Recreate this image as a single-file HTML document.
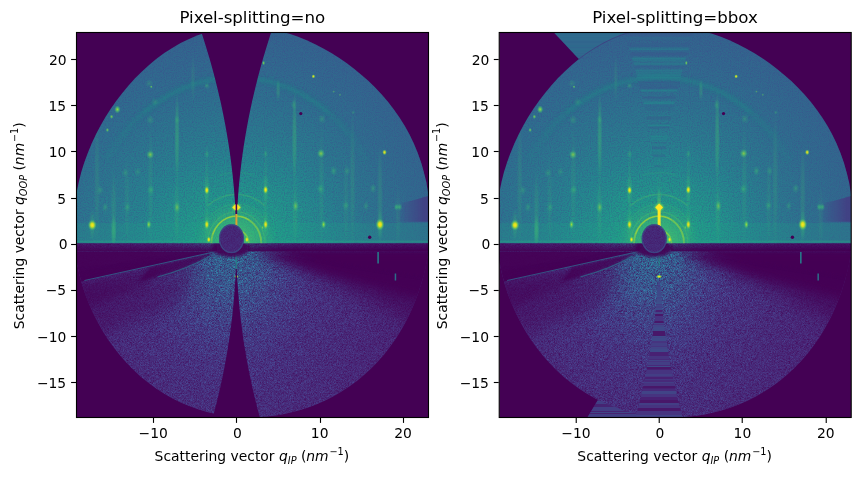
<!DOCTYPE html>
<html><head><meta charset="utf-8"><title>Pixel-splitting comparison</title>
<style>
html,body{margin:0;padding:0;background:#fff;}
body{width:861px;height:478px;overflow:hidden;}
svg{display:block;}
text{font-family:"DejaVu Sans","Liberation Sans",sans-serif;fill:#000;}
.t{font-size:13.89px;}
.ti{font-size:16.67px;}
.i{font-style:italic;}
.s{font-size:9.72px;}
</style></head><body>
<svg width="861" height="478" viewBox="0 0 861 478"><defs>
<radialGradient id="gup" gradientUnits="userSpaceOnUse" cx="0" cy="0" r="28" gradientTransform="translate(236.3 243.8) scale(11.259 9.235)" ><stop offset="0.0000" stop-color="#37b878"/><stop offset="0.0536" stop-color="#29af7f"/><stop offset="0.1071" stop-color="#20a486"/><stop offset="0.1786" stop-color="#1f9a8a"/><stop offset="0.2500" stop-color="#21918c"/><stop offset="0.3214" stop-color="#23888e"/><stop offset="0.4286" stop-color="#287d8e"/><stop offset="0.5714" stop-color="#2c728e"/><stop offset="0.7143" stop-color="#306a8e"/><stop offset="0.8571" stop-color="#33638d"/><stop offset="1.0000" stop-color="#355f8d"/></radialGradient>
<radialGradient id="glo" gradientUnits="userSpaceOnUse" cx="0" cy="0" r="34" gradientTransform="translate(229.62800000000001 243.8) scale(6.255 9.235)" ><stop offset="0.0000" stop-color="#27a6b4"/><stop offset="0.0588" stop-color="#2b9db3"/><stop offset="0.1176" stop-color="#3091b2"/><stop offset="0.1765" stop-color="#3881ae"/><stop offset="0.2353" stop-color="#3f70a9"/><stop offset="0.2941" stop-color="#4362a4"/><stop offset="0.4118" stop-color="#48509a"/><stop offset="0.5294" stop-color="#494a95"/><stop offset="0.6471" stop-color="#4a4491"/><stop offset="0.7941" stop-color="#4b3d8c"/><stop offset="1.0000" stop-color="#4b3b8a"/></radialGradient>
<radialGradient id="sy"><stop offset="0" stop-color="#fde725"/><stop offset="0.35" stop-color="#d8e219" stop-opacity="0.95"/><stop offset="0.65" stop-color="#7ad151" stop-opacity="0.6"/><stop offset="1" stop-color="#35b779" stop-opacity="0"/></radialGradient>
<radialGradient id="sg"><stop offset="0" stop-color="#a0da39"/><stop offset="0.4" stop-color="#5ec962" stop-opacity="0.8"/><stop offset="1" stop-color="#35b779" stop-opacity="0"/></radialGradient>
<radialGradient id="sf"><stop offset="0" stop-color="#44bf70" stop-opacity="0.6"/><stop offset="0.5" stop-color="#35b779" stop-opacity="0.3"/><stop offset="1" stop-color="#2db27d" stop-opacity="0"/></radialGradient>
<radialGradient id="cg"><stop offset="0" stop-color="#6ece58" stop-opacity="0.45"/><stop offset="0.6" stop-color="#4ec36b" stop-opacity="0.3"/><stop offset="1" stop-color="#32b67a" stop-opacity="0.12"/></radialGradient>
<linearGradient id="vsc" x1="0" x2="0" y1="0" y2="1"><stop offset="0" stop-color="#22a884" stop-opacity="0"/><stop offset="0.7" stop-color="#2cb17e" stop-opacity="0.12"/><stop offset="1" stop-color="#7ad151" stop-opacity="0.6"/></linearGradient>
<radialGradient id="ss"><stop offset="0" stop-color="#40bd72" stop-opacity="1"/><stop offset="0.45" stop-color="#3bbb75" stop-opacity="0.8"/><stop offset="1" stop-color="#35b779" stop-opacity="0"/></radialGradient>
<linearGradient id="dimg" gradientUnits="userSpaceOnUse" x1="397" x2="424" y1="0" y2="0"><stop offset="0" stop-color="#414487" stop-opacity="0"/><stop offset="0.45" stop-color="#414487" stop-opacity="0.6"/><stop offset="1" stop-color="#463480" stop-opacity="0.92"/></linearGradient>
<linearGradient id="rdim" gradientUnits="userSpaceOnUse" x1="300" x2="430" y1="0" y2="0"><stop offset="0" stop-color="#375a8c" stop-opacity="0"/><stop offset="1" stop-color="#375a8c" stop-opacity="0.3"/></linearGradient>
<linearGradient id="hb" x1="0" x2="0" y1="0" y2="1"><stop offset="0" stop-color="#440154" stop-opacity="0.45"/><stop offset="0.5" stop-color="#440154" stop-opacity="0.68"/><stop offset="1" stop-color="#440154" stop-opacity="0.93"/></linearGradient>
<linearGradient id="vs" x1="0" x2="1" y1="0" y2="0"><stop offset="0" stop-color="#35b779" stop-opacity="0"/><stop offset="0.5" stop-color="#3dbc74" stop-opacity="1"/><stop offset="1" stop-color="#35b779" stop-opacity="0"/></linearGradient>
<clipPath id="axc"><rect x="76.5" y="32.5" width="352.0" height="385.0"/></clipPath>
<clipPath id="ell"><path d="M73.7,223.0 L74.1,212.6 L75.2,202.3 L76.7,192.1 L78.8,182.1 L81.3,172.1 L84.3,162.4 L87.8,152.9 L91.7,143.6 L95.9,134.5 L100.5,125.7 L105.5,117.1 L110.8,108.8 L116.4,100.8 L122.4,93.0 L128.6,85.5 L135.1,78.3 L142.0,71.4 L149.1,64.9 L156.5,58.8 L164.3,53.1 L172.3,47.9 L180.6,43.1 L189.1,38.9 L197.8,35.3 L206.8,32.3 L215.9,29.9 L225.1,28.2 L234.4,27.2 L243.7,26.7 L253.0,27.0 L262.3,27.8 L271.4,29.3 L280.5,31.3 L289.4,33.8 L298.1,36.8 L306.7,40.3 L315.1,44.2 L323.3,48.4 L331.3,53.0 L339.2,58.0 L346.8,63.3 L354.3,68.9 L361.5,74.9 L368.5,81.1 L375.3,87.8 L381.9,94.7 L388.1,102.1 L394.0,109.7 L399.6,117.8 L404.8,126.1 L409.6,134.8 L413.9,143.8 L417.7,153.1 L421.1,162.6 L423.9,172.4 L426.3,182.3 L428.0,192.4 L429.3,202.5 L430.0,212.7 L430.3,223.0 L430.0,233.3 L429.2,243.5 L427.9,253.6 L426.2,263.7 L424.0,273.6 L421.3,283.5 L418.2,293.1 L414.6,302.6 L410.7,311.8 L406.3,320.8 L401.4,329.6 L396.2,338.0 L390.5,346.1 L384.5,353.9 L378.1,361.3 L371.3,368.3 L364.2,374.8 L356.8,380.9 L349.1,386.6 L341.1,391.8 L333.0,396.5 L324.6,400.7 L316.0,404.5 L307.3,407.7 L298.5,410.5 L289.5,412.8 L280.5,414.7 L271.4,416.0 L262.2,416.9 L253.0,417.3 L243.8,417.3 L234.6,416.7 L225.4,415.6 L216.3,414.0 L207.2,411.9 L198.3,409.2 L189.4,406.1 L180.7,402.4 L172.3,398.2 L164.0,393.5 L155.9,388.3 L148.1,382.6 L140.6,376.4 L133.4,369.8 L126.6,362.8 L120.0,355.3 L113.9,347.5 L108.1,339.4 L102.7,330.9 L97.7,322.1 L93.1,313.1 L89.0,303.7 L85.3,294.2 L82.1,284.4 L79.4,274.4 L77.2,264.3 L75.5,254.1 L74.3,243.8 L73.7,233.4Z"/></clipPath>
<clipPath id="wup"><path d="M200.82,30.50 L202.62,35.97 L204.37,41.44 L206.07,46.91 L207.72,52.38 L209.33,57.85 L210.90,63.32 L212.41,68.78 L213.88,74.25 L215.31,79.72 L216.68,85.19 L218.01,90.66 L219.29,96.13 L220.53,101.60 L221.72,107.07 L222.86,112.54 L223.96,118.01 L225.01,123.48 L226.01,128.95 L226.97,134.42 L227.88,139.88 L228.74,145.35 L229.56,150.82 L230.33,156.29 L231.05,161.76 L231.73,167.23 L232.36,172.70 L232.94,178.17 L233.48,183.64 L233.97,189.11 L234.41,194.58 L234.81,200.05 L235.16,205.52 L235.46,210.98 L235.72,216.45 L235.93,221.92 L236.09,227.39 L236.21,232.86 L236.28,238.33 L236.30,243.80 L236.30,243.80 L236.32,238.33 L236.39,232.86 L236.51,227.39 L236.67,221.92 L236.88,216.45 L237.14,210.98 L237.44,205.52 L237.79,200.05 L238.19,194.58 L238.63,189.11 L239.12,183.64 L239.66,178.17 L240.24,172.70 L240.87,167.23 L241.55,161.76 L242.27,156.29 L243.04,150.82 L243.86,145.35 L244.72,139.88 L245.63,134.42 L246.59,128.95 L247.59,123.48 L248.64,118.01 L249.74,112.54 L250.88,107.07 L252.07,101.60 L253.31,96.13 L254.59,90.66 L255.92,85.19 L257.29,79.72 L258.72,74.25 L260.19,68.78 L261.70,63.32 L263.27,57.85 L264.88,52.38 L266.53,46.91 L268.23,41.44 L269.98,35.97 L271.78,30.50Z"/></clipPath>
<clipPath id="wlo"><path d="M236.30,243.80 L236.28,248.31 L236.24,252.81 L236.16,257.32 L236.05,261.82 L235.90,266.33 L235.73,270.83 L235.52,275.34 L235.29,279.84 L235.02,284.35 L234.72,288.85 L234.38,293.36 L234.02,297.86 L233.63,302.37 L233.20,306.87 L232.74,311.38 L232.25,315.88 L231.73,320.39 L231.17,324.89 L230.59,329.40 L229.97,333.90 L229.32,338.41 L228.64,342.91 L227.93,347.42 L227.18,351.92 L226.41,356.43 L225.60,360.93 L224.76,365.44 L223.89,369.94 L222.99,374.45 L222.05,378.95 L221.09,383.46 L220.09,387.96 L219.06,392.47 L218.00,396.97 L216.91,401.48 L215.79,405.98 L214.63,410.49 L213.44,414.99 L212.23,419.50 L260.37,419.50 L259.16,414.99 L257.97,410.49 L256.81,405.98 L255.69,401.48 L254.60,396.97 L253.54,392.47 L252.51,387.96 L251.51,383.46 L250.55,378.95 L249.61,374.45 L248.71,369.94 L247.84,365.44 L247.00,360.93 L246.19,356.43 L245.42,351.92 L244.67,347.42 L243.96,342.91 L243.28,338.41 L242.63,333.90 L242.01,329.40 L241.43,324.89 L240.87,320.39 L240.35,315.88 L239.86,311.38 L239.40,306.87 L238.97,302.37 L238.58,297.86 L238.22,293.36 L237.88,288.85 L237.58,284.35 L237.31,279.84 L237.08,275.34 L236.87,270.83 L236.70,266.33 L236.55,261.82 L236.44,257.32 L236.36,252.81 L236.32,248.31 L236.30,243.80Z"/></clipPath>
<clipPath id="tlp"><path d="M130.7,32 L157,60 L200,70 L210,32 Z"/></clipPath>
<clipPath id="blp"><path d="M164.3,418 L176.5,397.8 L200,410 L236,418 Z"/></clipPath>
<clipPath id="upc"><rect x="76.5" y="32.5" width="352.0" height="211.0"/></clipPath>
<clipPath id="loc"><rect x="76.5" y="243.5" width="352.0" height="174.0"/></clipPath>
<filter id="nz" x="0" y="0" width="100%" height="100%" color-interpolation-filters="sRGB"><feTurbulence type="fractalNoise" baseFrequency="1.73 1.61" numOctaves="3" seed="3" result="t"/><feColorMatrix in="t" type="matrix" values="0 0 0 0 0.267  0 0 0 0 0.004  0 0 0 0 0.329  1.1 0 0 0 -0.15"/></filter>
<filter id="nzb" x="0" y="0" width="100%" height="100%" color-interpolation-filters="sRGB"><feTurbulence type="fractalNoise" baseFrequency="1.3" numOctaves="2" seed="8" result="t"/><feColorMatrix in="t" type="matrix" values="0 0 0 0 0.267  0 0 0 0 0.004  0 0 0 0 0.329  1.5 0 0 0 -0.4"/><feComposite in2="SourceGraphic" operator="in"/></filter>
<filter id="nz2" x="0" y="0" width="100%" height="100%" color-interpolation-filters="sRGB"><feTurbulence type="fractalNoise" baseFrequency="0.8" numOctaves="2" seed="11" result="t"/><feColorMatrix in="t" type="matrix" values="0 0 0 0 0.15  0 0 0 0 0.45  0 0 0 0 0.55  0 4 0 0 -2.0"/></filter>
<filter id="nzu" x="0" y="0" width="100%" height="100%" color-interpolation-filters="sRGB"><feTurbulence type="fractalNoise" baseFrequency="0.9 0.8" numOctaves="2" seed="5" result="t"/><feColorMatrix in="t" type="matrix" values="0 0 0 0 0.25  0 0 0 0 0.25  0 0 0 0 0.55  0.9 0 0 0 -0.33"/></filter>
<filter id="b1" x="-50%" y="-50%" width="200%" height="200%"><feGaussianBlur stdDeviation="0.7"/></filter>
<filter id="b2" x="-50%" y="-50%" width="200%" height="200%"><feGaussianBlur stdDeviation="1.5"/></filter>
<filter id="b5" x="-50%" y="-50%" width="200%" height="200%"><feGaussianBlur stdDeviation="5"/></filter>
<filter id="b8" x="-50%" y="-50%" width="200%" height="200%"><feGaussianBlur stdDeviation="8"/></filter>
</defs>
<g transform="translate(0 0)"><g clip-path="url(#axc)">
<rect x="76.5" y="32.5" width="352.0" height="385.0" fill="#440154"/>
<g clip-path="url(#ell)">
<g clip-path="url(#upc)">
<rect x="76.5" y="32.5" width="352.0" height="211.3" fill="url(#gup)"/>
<rect x="76.5" y="32.5" width="352.0" height="211.3" filter="url(#nzu)"/>
<path d="M398,204.5 L430,195.6 L430,221.8 L396,221.8 Z" fill="url(#dimg)" filter="url(#b1)"/>
<rect x="300" y="32.5" width="131" height="211.3" fill="url(#rdim)"/>
<rect x="76.5" y="223" width="352.0" height="22" fill="#1f9f88" opacity="0.22"/>
<path d="M328.72,112.81 A150.12,166.23 0 0 0 143.88,112.81" fill="none" stroke="#1e9c89" stroke-width="3.4" opacity="0.19" filter="url(#b2)"/>
<path d="M351.30,136.95 A150.12,166.23 0 0 0 121.30,136.95" fill="none" stroke="#1e9c89" stroke-width="3.4" opacity="0.1" filter="url(#b2)"/>
<path d="M366.31,160.69 A150.12,166.23 0 0 0 106.29,160.69" fill="none" stroke="#21918c" stroke-width="8" opacity="0.1" filter="url(#b2)"/>
<ellipse cx="236.3" cy="243.8" rx="25.0" ry="27.7" fill="url(#cg)"/>
<path d="M261.32,243.80 A25.02,27.70 0 0 0 211.28,243.80" fill="none" stroke="#a2da37" stroke-width="1.9" opacity="0.62" filter="url(#b1)"/>
<path d="M248.81,219.81 A25.02,27.70 0 0 0 212.79,234.32" fill="none" stroke="#dfe318" stroke-width="1.0" opacity="0.5" filter="url(#b1)"/>
<path d="M248.81,243.80 A12.51,13.85 0 0 0 223.79,243.80" fill="none" stroke="#b0dd2f" stroke-width="1.6" opacity="0.7" filter="url(#b1)"/>
<path d="M265.07,243.80 A28.77,31.86 0 0 0 207.53,243.80" fill="none" stroke="#5ec962" stroke-width="1.2" opacity="0.3" filter="url(#b1)"/>
<path d="M264.98,205.95 A44.62,49.41 0 0 0 207.62,205.95" fill="none" stroke="#4ec36b" stroke-width="1.8" opacity="0.3" filter="url(#b1)"/>
<path d="M270.00,230.22 A35.86,39.71 0 0 0 202.60,230.22" fill="none" stroke="#44bf70" stroke-width="1.2" opacity="0.15" filter="url(#b1)"/>
<path d="M252.92,175.11 A64.22,71.11 0 0 0 219.68,175.11" fill="none" stroke="#32b67a" stroke-width="1.6" opacity="0.15" filter="url(#b1)"/>
<ellipse cx="177.0" cy="138.0" rx="2.70" ry="46.4" fill="url(#ss)" opacity="0.42"/>
<ellipse cx="176.8" cy="210.5" rx="3.00" ry="37.7" fill="url(#ss)" opacity="0.22"/>
<ellipse cx="294.5" cy="139.0" rx="2.70" ry="49.9" fill="url(#ss)" opacity="0.4"/>
<ellipse cx="295.0" cy="212.5" rx="3.00" ry="35.4" fill="url(#ss)" opacity="0.22"/>
<ellipse cx="206.8" cy="191.5" rx="2.25" ry="59.7" fill="url(#ss)" opacity="0.14"/>
<ellipse cx="265.6" cy="191.5" rx="2.25" ry="59.7" fill="url(#ss)" opacity="0.14"/>
<ellipse cx="113.7" cy="209.0" rx="3.00" ry="39.4" fill="url(#ss)" opacity="0.2"/>
<ellipse cx="113.7" cy="231.0" rx="3.00" ry="17.4" fill="url(#ss)" opacity="0.5"/>
<ellipse cx="97.0" cy="181.5" rx="3.00" ry="71.3" fill="url(#ss)" opacity="0.16"/>
<ellipse cx="150.5" cy="186.5" rx="3.00" ry="65.5" fill="url(#ss)" opacity="0.15"/>
<ellipse cx="321.5" cy="186.5" rx="3.00" ry="65.5" fill="url(#ss)" opacity="0.15"/>
<ellipse cx="352.5" cy="181.5" rx="3.00" ry="71.3" fill="url(#ss)" opacity="0.18"/>
<ellipse cx="380.0" cy="196.5" rx="3.00" ry="53.9" fill="url(#ss)" opacity="0.2"/>
<ellipse cx="193.0" cy="79.0" rx="2.25" ry="24.4" fill="url(#ss)" opacity="0.15"/>
<ellipse cx="278.2" cy="90.0" rx="2.25" ry="11.6" fill="url(#ss)" opacity="0.3"/>
<ellipse cx="127.0" cy="201.5" rx="3.00" ry="48.1" fill="url(#ss)" opacity="0.12"/>
<ellipse cx="346.0" cy="201.5" rx="3.00" ry="48.1" fill="url(#ss)" opacity="0.12"/>
<ellipse cx="398.0" cy="216.5" rx="3.00" ry="30.7" fill="url(#ss)" opacity="0.12"/>
<ellipse cx="380.0" cy="224.5" rx="3.38" ry="16.2" fill="url(#ss)" opacity="0.3"/>
<ellipse cx="92.3" cy="225.1" rx="3.38" ry="16.2" fill="url(#ss)" opacity="0.3"/>
<ellipse cx="206.8" cy="224.5" rx="3.38" ry="16.2" fill="url(#ss)" opacity="0.3"/>
<ellipse cx="265.6" cy="224.5" rx="3.38" ry="16.2" fill="url(#ss)" opacity="0.3"/>
<ellipse cx="206.8" cy="190.2" rx="3.38" ry="16.2" fill="url(#ss)" opacity="0.3"/>
<ellipse cx="265.6" cy="189.8" rx="3.38" ry="16.2" fill="url(#ss)" opacity="0.3"/>
<ellipse cx="236.4" cy="207.4" rx="6" ry="5" fill="url(#sy)" opacity="1"/>
<ellipse cx="206.8" cy="190.2" rx="2.6" ry="4.5" fill="url(#sy)" opacity="1"/>
<ellipse cx="265.6" cy="189.8" rx="2.6" ry="4.5" fill="url(#sy)" opacity="1"/>
<ellipse cx="206.8" cy="224.5" rx="2.6" ry="5" fill="url(#sy)" opacity="1"/>
<ellipse cx="265.6" cy="224.5" rx="2.6" ry="5" fill="url(#sy)" opacity="1"/>
<ellipse cx="92.3" cy="225.1" rx="4.5" ry="5.5" fill="url(#sy)" opacity="1"/>
<ellipse cx="380.0" cy="224.5" rx="4.5" ry="6" fill="url(#sy)" opacity="1"/>
<ellipse cx="117.4" cy="109.4" rx="3.2" ry="4" fill="url(#sg)" opacity="1"/>
<ellipse cx="111.6" cy="116.7" rx="2" ry="2.4" fill="url(#sg)" opacity="0.8"/>
<ellipse cx="107.4" cy="130.0" rx="1.8" ry="2.2" fill="url(#sg)" opacity="0.8"/>
<ellipse cx="384.5" cy="152.3" rx="2.4" ry="3" fill="url(#sy)" opacity="0.9"/>
<ellipse cx="313.4" cy="76.4" rx="2" ry="2.2" fill="url(#sy)" opacity="0.9"/>
<ellipse cx="263.6" cy="63.0" rx="1.6" ry="2.4" fill="url(#sg)" opacity="0.9"/>
<ellipse cx="148.8" cy="224.5" rx="2.5" ry="4.5" fill="url(#sg)" opacity="1"/>
<ellipse cx="323.6" cy="224.5" rx="2.5" ry="4.5" fill="url(#sg)" opacity="1"/>
<ellipse cx="150.3" cy="154.6" rx="4" ry="4.5" fill="url(#sg)" opacity="0.75"/>
<ellipse cx="321.0" cy="153.5" rx="4" ry="4.5" fill="url(#sg)" opacity="0.8"/>
<ellipse cx="150.9" cy="190.0" rx="4" ry="5" fill="url(#sf)" opacity="0.9"/>
<ellipse cx="320.7" cy="189.0" rx="4" ry="5" fill="url(#sf)" opacity="0.9"/>
<ellipse cx="177.0" cy="207.3" rx="3.2" ry="6" fill="url(#sg)" opacity="0.6"/>
<ellipse cx="295.6" cy="206.0" rx="3.2" ry="6" fill="url(#sg)" opacity="0.6"/>
<ellipse cx="127.3" cy="207.3" rx="3.5" ry="5" fill="url(#sf)" opacity="0.7"/>
<ellipse cx="345.8" cy="205.6" rx="3.5" ry="5" fill="url(#sf)" opacity="0.8"/>
<ellipse cx="125.2" cy="172.8" rx="3.5" ry="4.5" fill="url(#sf)" opacity="0.6"/>
<ellipse cx="137.7" cy="171.7" rx="3.5" ry="4.5" fill="url(#sf)" opacity="0.5"/>
<ellipse cx="333.7" cy="171.0" rx="3.5" ry="5" fill="url(#sf)" opacity="0.8"/>
<ellipse cx="347.0" cy="171.0" rx="3.5" ry="4.5" fill="url(#sf)" opacity="0.6"/>
<ellipse cx="100.0" cy="190.2" rx="3.5" ry="5" fill="url(#sf)" opacity="0.6"/>
<ellipse cx="373.0" cy="188.5" rx="3.5" ry="5" fill="url(#sf)" opacity="0.7"/>
<ellipse cx="105.3" cy="207.3" rx="3.5" ry="5" fill="url(#sf)" opacity="0.6"/>
<ellipse cx="366.0" cy="206.0" rx="3" ry="5" fill="url(#sf)" opacity="0.6"/>
<ellipse cx="396.3" cy="207.0" rx="2.6" ry="4" fill="url(#sf)" opacity="1"/>
<ellipse cx="399.8" cy="207.0" rx="2.6" ry="4" fill="url(#sf)" opacity="1"/>
<ellipse cx="398.0" cy="207.0" rx="4" ry="3" fill="url(#sf)" opacity="0.8"/>
<ellipse cx="206.8" cy="154.0" rx="2.5" ry="4" fill="url(#sf)" opacity="0.7"/>
<ellipse cx="265.6" cy="154.0" rx="2.5" ry="4" fill="url(#sf)" opacity="0.7"/>
<ellipse cx="151.3" cy="86.8" rx="1.5" ry="1.5" fill="url(#sg)" opacity="0.8"/>
<ellipse cx="149.2" cy="83.3" rx="4" ry="4" fill="url(#sf)" opacity="0.5"/>
<ellipse cx="155.0" cy="102.0" rx="4" ry="4" fill="url(#sf)" opacity="0.5"/>
<ellipse cx="150.3" cy="119.9" rx="4" ry="5" fill="url(#sf)" opacity="0.6"/>
<ellipse cx="206.8" cy="85.8" rx="3" ry="3" fill="url(#sf)" opacity="0.8"/>
<ellipse cx="322.0" cy="118.8" rx="4" ry="5" fill="url(#sf)" opacity="0.6"/>
<ellipse cx="333.7" cy="91.6" rx="1.5" ry="1.5" fill="url(#sg)" opacity="0.4"/>
<ellipse cx="340.0" cy="94.8" rx="1.5" ry="1.5" fill="url(#sg)" opacity="0.4"/>
<ellipse cx="353.0" cy="112.5" rx="2" ry="2" fill="url(#sf)" opacity="0.7"/>
<ellipse cx="177.0" cy="120.0" rx="3" ry="5" fill="url(#sf)" opacity="0.6"/>
<ellipse cx="294.0" cy="105.0" rx="3" ry="6" fill="url(#sf)" opacity="0.7"/>
<ellipse cx="236.3" cy="238.0" rx="14" ry="4" fill="url(#sf)" opacity="0.5"/>
<circle cx="300.8" cy="113.6" r="1.6" fill="#440154"/>
<circle cx="369.7" cy="237.2" r="1.7" fill="#440154"/>
<rect x="76.5" y="240.60000000000002" width="352.0" height="2" fill="#26ad81" opacity="0.35" filter="url(#b1)"/>
<ellipse cx="236.3" cy="243.8" rx="34" ry="36" fill="#4ec36b" opacity="0.22" filter="url(#b5)"/>
<ellipse cx="208.8" cy="239.6" rx="2.2" ry="3.4" fill="url(#sy)" opacity="1"/>
<ellipse cx="246.9" cy="239.6" rx="2.2" ry="3.4" fill="url(#sy)" opacity="1"/>
<ellipse cx="262.5" cy="227.6" rx="1.4" ry="2.6" fill="url(#sg)" opacity="0.7"/>
</g>
<g clip-path="url(#loc)">
<rect x="76.5" y="243.3" width="352.0" height="174.7" fill="url(#glo)"/>
<rect x="76.5" y="243.3" width="352.0" height="174.7" filter="url(#nz)"/>
<rect x="76.5" y="243.3" width="140.5" height="8" fill="url(#hb)"/>
<rect x="248" y="243.3" width="180.5" height="8" fill="url(#hb)"/>
<path d="M70,251.5 L216,251.5 L84,281 L70,284 Z" fill="#440154" opacity="0.93" filter="url(#b1)"/>
<path d="M70,284 L84,281 L160,264 L150,282 L80,312 Z" fill="#440154" opacity="0.45" filter="url(#b5)"/>
<path d="M216,251.5 L150,266.3 L138,282 L157.6,277 Q190,268 210,255.5 Z" fill="#440154" opacity="0.8" filter="url(#b2)"/>
<path d="M70,284 L157,277 L204,260 L178,305 L100,335 L70,320 Z" fill="#440154" opacity="0.4" filter="url(#b8)"/>
<path d="M262,252 L440,252 L440,335 L350,292 Z" fill="#440154" opacity="0.55" filter="url(#b8)"/>
<path d="M252,252 L440,252 L440,305 L330,276 L272,258 Z" fill="#440154" opacity="0.95" filter="url(#b5)"/>
<path d="M282,252 L440,252 L440,280 L340,264 Z" fill="#440154" opacity="0.9" filter="url(#b2)"/>
<path d="M218,251 L84.4,280.5" stroke="#31678e" stroke-width="1" opacity="0.8" fill="none"/>
<path d="M210,256 Q190,268 157.6,277" stroke="#2e6f8e" stroke-width="1.1" opacity="0.75" fill="none"/>
<rect x="377.3" y="252" width="1.6" height="11.5" fill="#25848e" opacity="0.9"/>
<rect x="394.7" y="273.5" width="1.5" height="7" fill="#2a788e" opacity="0.9"/>
<ellipse cx="236.4" cy="276.6" rx="2.4" ry="1.9" fill="url(#sy)" opacity="1"/>
</g>
</g>
<path d="M200.82,30.50 L202.62,35.97 L204.37,41.44 L206.07,46.91 L207.72,52.38 L209.33,57.85 L210.90,63.32 L212.41,68.78 L213.88,74.25 L215.31,79.72 L216.68,85.19 L218.01,90.66 L219.29,96.13 L220.53,101.60 L221.72,107.07 L222.86,112.54 L223.96,118.01 L225.01,123.48 L226.01,128.95 L226.97,134.42 L227.88,139.88 L228.74,145.35 L229.56,150.82 L230.33,156.29 L231.05,161.76 L231.73,167.23 L232.36,172.70 L232.94,178.17 L233.48,183.64 L233.97,189.11 L234.41,194.58 L234.81,200.05 L235.16,205.52 L235.46,210.98 L235.72,216.45 L235.93,221.92 L236.09,227.39 L236.21,232.86 L236.28,238.33 L236.30,243.80 L236.30,243.80 L236.32,238.33 L236.39,232.86 L236.51,227.39 L236.67,221.92 L236.88,216.45 L237.14,210.98 L237.44,205.52 L237.79,200.05 L238.19,194.58 L238.63,189.11 L239.12,183.64 L239.66,178.17 L240.24,172.70 L240.87,167.23 L241.55,161.76 L242.27,156.29 L243.04,150.82 L243.86,145.35 L244.72,139.88 L245.63,134.42 L246.59,128.95 L247.59,123.48 L248.64,118.01 L249.74,112.54 L250.88,107.07 L252.07,101.60 L253.31,96.13 L254.59,90.66 L255.92,85.19 L257.29,79.72 L258.72,74.25 L260.19,68.78 L261.70,63.32 L263.27,57.85 L264.88,52.38 L266.53,46.91 L268.23,41.44 L269.98,35.97 L271.78,30.50Z" fill="#440154"/>
<path d="M236.30,243.80 L236.28,248.31 L236.24,252.81 L236.16,257.32 L236.05,261.82 L235.90,266.33 L235.73,270.83 L235.52,275.34 L235.29,279.84 L235.02,284.35 L234.72,288.85 L234.38,293.36 L234.02,297.86 L233.63,302.37 L233.20,306.87 L232.74,311.38 L232.25,315.88 L231.73,320.39 L231.17,324.89 L230.59,329.40 L229.97,333.90 L229.32,338.41 L228.64,342.91 L227.93,347.42 L227.18,351.92 L226.41,356.43 L225.60,360.93 L224.76,365.44 L223.89,369.94 L222.99,374.45 L222.05,378.95 L221.09,383.46 L220.09,387.96 L219.06,392.47 L218.00,396.97 L216.91,401.48 L215.79,405.98 L214.63,410.49 L213.44,414.99 L212.23,419.50 L260.37,419.50 L259.16,414.99 L257.97,410.49 L256.81,405.98 L255.69,401.48 L254.60,396.97 L253.54,392.47 L252.51,387.96 L251.51,383.46 L250.55,378.95 L249.61,374.45 L248.71,369.94 L247.84,365.44 L247.00,360.93 L246.19,356.43 L245.42,351.92 L244.67,347.42 L243.96,342.91 L243.28,338.41 L242.63,333.90 L242.01,329.40 L241.43,324.89 L240.87,320.39 L240.35,315.88 L239.86,311.38 L239.40,306.87 L238.97,302.37 L238.58,297.86 L238.22,293.36 L237.88,288.85 L237.58,284.35 L237.31,279.84 L237.08,275.34 L236.87,270.83 L236.70,266.33 L236.55,261.82 L236.44,257.32 L236.36,252.81 L236.32,248.31 L236.30,243.80Z" fill="#440154"/>
<path d="M236.4,203.5 L240.6,207.5 L236.4,211 L232.2,207.5 Z" fill="#fde725" filter="url(#b1)"/>
<rect x="235.65" y="170" width="1.5" height="44" fill="#440154"/>
<rect x="235.4" y="214" width="2" height="12" fill="#d9a335"/>
<rect x="235.8" y="253" width="1.2" height="16" fill="#21918c" opacity="0.8"/>
<ellipse cx="231" cy="248" rx="19" ry="9" fill="#440154" opacity="0.9" filter="url(#b2)" clip-path="url(#loc)"/>
<ellipse cx="231.5" cy="238.7" rx="12.5" ry="14.4" fill="#46307e"/>
<ellipse cx="231.5" cy="238.7" rx="12.5" ry="14.4" filter="url(#nzb)" opacity="0.5"/>
<ellipse cx="231.5" cy="238.7" rx="12" ry="13.9" fill="none" stroke="#38588c" stroke-width="1.4" opacity="0.6" filter="url(#b1)"/>
</g>
<rect x="76.5" y="32.5" width="352.0" height="385.0" fill="none" stroke="#000" stroke-width="1.11"/>
<path d="M153.5,418.0 v4.9" stroke="#000" stroke-width="1.11"/>
<text x="153.20" y="437.6" text-anchor="middle" class="t">−10</text>
<path d="M236.5,418.0 v4.9" stroke="#000" stroke-width="1.11"/>
<text x="237.30" y="437.6" text-anchor="middle" class="t">0</text>
<path d="M320.5,418.0 v4.9" stroke="#000" stroke-width="1.11"/>
<text x="319.70" y="437.6" text-anchor="middle" class="t">10</text>
<path d="M403.5,418.0 v4.9" stroke="#000" stroke-width="1.11"/>
<text x="403.10" y="437.6" text-anchor="middle" class="t">20</text>
<path d="M76.0,59.5 h-4.9" stroke="#000" stroke-width="1.11"/>
<text x="66.7" y="64.90" text-anchor="end" class="t">20</text>
<path d="M76.0,105.5 h-4.9" stroke="#000" stroke-width="1.11"/>
<text x="66.2" y="110.90" text-anchor="end" class="t">15</text>
<path d="M76.0,151.5 h-4.9" stroke="#000" stroke-width="1.11"/>
<text x="66.3" y="156.90" text-anchor="end" class="t">10</text>
<path d="M76.0,198.5 h-4.9" stroke="#000" stroke-width="1.11"/>
<text x="66.2" y="203.90" text-anchor="end" class="t">5</text>
<path d="M76.0,244.5 h-4.9" stroke="#000" stroke-width="1.11"/>
<text x="67.6" y="249.00" text-anchor="end" class="t">0</text>
<path d="M76.0,290.5 h-4.9" stroke="#000" stroke-width="1.11"/>
<text x="66.2" y="295.00" text-anchor="end" class="t">−5</text>
<path d="M76.0,336.5 h-4.9" stroke="#000" stroke-width="1.11"/>
<text x="66.3" y="341.90" text-anchor="end" class="t">−10</text>
<path d="M76.0,382.5 h-4.9" stroke="#000" stroke-width="1.11"/>
<text x="66.2" y="387.90" text-anchor="end" class="t">−15</text>
<text x="252.26" y="22.7" text-anchor="middle" class="ti" letter-spacing="-0.05">Pixel-splitting=no</text>
<text x="154.6" y="461.0" class="t">Scattering vector <tspan class="i">q</tspan><tspan class="i s" dy="3">IP</tspan><tspan dy="-3"> (</tspan><tspan class="i">nm</tspan><tspan class="s" dy="-6.3" dx="0.8">−1</tspan><tspan dy="6.3">)</tspan></text>
<text transform="translate(23.8 329.3) rotate(-90)" class="t">Scattering vector <tspan class="i">q</tspan><tspan class="i s" dy="3">OOP</tspan><tspan dy="-3"> (</tspan><tspan class="i">nm</tspan><tspan class="s" dy="-6.3" dx="0.8">−1</tspan><tspan dy="6.3">)</tspan></text>
</g>
<g transform="translate(422.727 0)"><g clip-path="url(#axc)">
<rect x="76.5" y="32.5" width="352.0" height="385.0" fill="#440154"/>
<path d="M130.7,32 L157,60 L200,70 L272,70 L272,32 Z" fill="#31688e"/>
<g clip-path="url(#tlp)" opacity="0.45">
<rect x="128" y="33.5" width="80" height="1" fill="#2a788e"/>
<rect x="128" y="34.5" width="80" height="1" fill="#2d718e"/>
<rect x="128" y="35.5" width="80" height="2" fill="#2d718e"/>
<rect x="128" y="38.5" width="80" height="1" fill="#2a788e"/>
<rect x="128" y="41.5" width="80" height="1" fill="#355f8d"/>
<rect x="128" y="45.5" width="80" height="1" fill="#2d718e"/>
<rect x="128" y="47.5" width="80" height="1" fill="#355f8d"/>
<rect x="128" y="48.5" width="80" height="1" fill="#2a788e"/>
<rect x="128" y="50.5" width="80" height="1" fill="#2d718e"/>
<rect x="128" y="53.5" width="80" height="1" fill="#355f8d"/>
<rect x="128" y="54.5" width="80" height="1" fill="#2a788e"/>
<rect x="128" y="55.5" width="80" height="1" fill="#375a8c"/>
<rect x="128" y="56.5" width="80" height="1" fill="#355f8d"/>
<rect x="128" y="59.5" width="80" height="2" fill="#2d718e"/>
</g>
<path d="M164.3,418 L176.5,397.8 L200,410 L236,418 Z" fill="#453781"/>
<g clip-path="url(#blp)" opacity="0.6">
<rect x="160" y="396.0" width="80" height="2" fill="#3c4f8a"/>
<rect x="160" y="398.0" width="80" height="1" fill="#481769"/>
<rect x="160" y="399.0" width="80" height="1" fill="#3c4f8a"/>
<rect x="160" y="400.0" width="80" height="1" fill="#482475"/>
<rect x="160" y="401.0" width="80" height="1" fill="#3c4f8a"/>
<rect x="160" y="402.0" width="80" height="2" fill="#414487"/>
<rect x="160" y="404.0" width="80" height="1" fill="#481769"/>
<rect x="160" y="405.0" width="80" height="1" fill="#481769"/>
<rect x="160" y="406.0" width="80" height="1" fill="#481769"/>
<rect x="160" y="407.0" width="80" height="1" fill="#414487"/>
<rect x="160" y="408.0" width="80" height="2" fill="#414487"/>
<rect x="160" y="410.0" width="80" height="1" fill="#414487"/>
<rect x="160" y="411.0" width="80" height="1" fill="#481769"/>
<rect x="160" y="412.0" width="80" height="1" fill="#3c4f8a"/>
<rect x="160" y="413.0" width="80" height="1" fill="#481769"/>
<rect x="160" y="414.0" width="80" height="2" fill="#414487"/>
<rect x="160" y="416.0" width="80" height="1" fill="#414487"/>
<rect x="160" y="417.0" width="80" height="1" fill="#481769"/>
</g>
<path d="M200.82,30.50 L202.62,35.97 L204.37,41.44 L206.07,46.91 L207.72,52.38 L209.33,57.85 L210.90,63.32 L212.41,68.78 L213.88,74.25 L215.31,79.72 L216.68,85.19 L218.01,90.66 L219.29,96.13 L220.53,101.60 L221.72,107.07 L222.86,112.54 L223.96,118.01 L225.01,123.48 L226.01,128.95 L226.97,134.42 L227.88,139.88 L228.74,145.35 L229.56,150.82 L230.33,156.29 L231.05,161.76 L231.73,167.23 L232.36,172.70 L232.94,178.17 L233.48,183.64 L233.97,189.11 L234.41,194.58 L234.81,200.05 L235.16,205.52 L235.46,210.98 L235.72,216.45 L235.93,221.92 L236.09,227.39 L236.21,232.86 L236.28,238.33 L236.30,243.80 L236.30,243.80 L236.32,238.33 L236.39,232.86 L236.51,227.39 L236.67,221.92 L236.88,216.45 L237.14,210.98 L237.44,205.52 L237.79,200.05 L238.19,194.58 L238.63,189.11 L239.12,183.64 L239.66,178.17 L240.24,172.70 L240.87,167.23 L241.55,161.76 L242.27,156.29 L243.04,150.82 L243.86,145.35 L244.72,139.88 L245.63,134.42 L246.59,128.95 L247.59,123.48 L248.64,118.01 L249.74,112.54 L250.88,107.07 L252.07,101.60 L253.31,96.13 L254.59,90.66 L255.92,85.19 L257.29,79.72 L258.72,74.25 L260.19,68.78 L261.70,63.32 L263.27,57.85 L264.88,52.38 L266.53,46.91 L268.23,41.44 L269.98,35.97 L271.78,30.50Z" fill="url(#gup)"/>
<path d="M236.30,243.80 L236.28,248.31 L236.24,252.81 L236.16,257.32 L236.05,261.82 L235.90,266.33 L235.73,270.83 L235.52,275.34 L235.29,279.84 L235.02,284.35 L234.72,288.85 L234.38,293.36 L234.02,297.86 L233.63,302.37 L233.20,306.87 L232.74,311.38 L232.25,315.88 L231.73,320.39 L231.17,324.89 L230.59,329.40 L229.97,333.90 L229.32,338.41 L228.64,342.91 L227.93,347.42 L227.18,351.92 L226.41,356.43 L225.60,360.93 L224.76,365.44 L223.89,369.94 L222.99,374.45 L222.05,378.95 L221.09,383.46 L220.09,387.96 L219.06,392.47 L218.00,396.97 L216.91,401.48 L215.79,405.98 L214.63,410.49 L213.44,414.99 L212.23,419.50 L260.37,419.50 L259.16,414.99 L257.97,410.49 L256.81,405.98 L255.69,401.48 L254.60,396.97 L253.54,392.47 L252.51,387.96 L251.51,383.46 L250.55,378.95 L249.61,374.45 L248.71,369.94 L247.84,365.44 L247.00,360.93 L246.19,356.43 L245.42,351.92 L244.67,347.42 L243.96,342.91 L243.28,338.41 L242.63,333.90 L242.01,329.40 L241.43,324.89 L240.87,320.39 L240.35,315.88 L239.86,311.38 L239.40,306.87 L238.97,302.37 L238.58,297.86 L238.22,293.36 L237.88,288.85 L237.58,284.35 L237.31,279.84 L237.08,275.34 L236.87,270.83 L236.70,266.33 L236.55,261.82 L236.44,257.32 L236.36,252.81 L236.32,248.31 L236.30,243.80Z" fill="#443a83"/>
<g clip-path="url(#ell)">
<g clip-path="url(#upc)">
<rect x="76.5" y="32.5" width="352.0" height="211.3" fill="url(#gup)"/>
<rect x="76.5" y="32.5" width="352.0" height="211.3" filter="url(#nzu)"/>
<path d="M398,204.5 L430,195.6 L430,221.8 L396,221.8 Z" fill="url(#dimg)" filter="url(#b1)"/>
<rect x="300" y="32.5" width="131" height="211.3" fill="url(#rdim)"/>
<rect x="76.5" y="223" width="352.0" height="22" fill="#1f9f88" opacity="0.22"/>
<path d="M328.72,112.81 A150.12,166.23 0 0 0 143.88,112.81" fill="none" stroke="#1e9c89" stroke-width="3.4" opacity="0.19" filter="url(#b2)"/>
<path d="M351.30,136.95 A150.12,166.23 0 0 0 121.30,136.95" fill="none" stroke="#1e9c89" stroke-width="3.4" opacity="0.1" filter="url(#b2)"/>
<path d="M366.31,160.69 A150.12,166.23 0 0 0 106.29,160.69" fill="none" stroke="#21918c" stroke-width="8" opacity="0.1" filter="url(#b2)"/>
<ellipse cx="236.3" cy="243.8" rx="25.0" ry="27.7" fill="url(#cg)"/>
<path d="M261.32,243.80 A25.02,27.70 0 0 0 211.28,243.80" fill="none" stroke="#a2da37" stroke-width="1.9" opacity="0.62" filter="url(#b1)"/>
<path d="M248.81,219.81 A25.02,27.70 0 0 0 212.79,234.32" fill="none" stroke="#dfe318" stroke-width="1.0" opacity="0.5" filter="url(#b1)"/>
<path d="M248.81,243.80 A12.51,13.85 0 0 0 223.79,243.80" fill="none" stroke="#b0dd2f" stroke-width="1.6" opacity="0.7" filter="url(#b1)"/>
<path d="M265.07,243.80 A28.77,31.86 0 0 0 207.53,243.80" fill="none" stroke="#5ec962" stroke-width="1.2" opacity="0.3" filter="url(#b1)"/>
<path d="M264.98,205.95 A44.62,49.41 0 0 0 207.62,205.95" fill="none" stroke="#4ec36b" stroke-width="1.8" opacity="0.3" filter="url(#b1)"/>
<path d="M270.00,230.22 A35.86,39.71 0 0 0 202.60,230.22" fill="none" stroke="#44bf70" stroke-width="1.2" opacity="0.15" filter="url(#b1)"/>
<path d="M252.92,175.11 A64.22,71.11 0 0 0 219.68,175.11" fill="none" stroke="#32b67a" stroke-width="1.6" opacity="0.15" filter="url(#b1)"/>
<ellipse cx="177.0" cy="138.0" rx="2.70" ry="46.4" fill="url(#ss)" opacity="0.42"/>
<ellipse cx="176.8" cy="210.5" rx="3.00" ry="37.7" fill="url(#ss)" opacity="0.22"/>
<ellipse cx="294.5" cy="139.0" rx="2.70" ry="49.9" fill="url(#ss)" opacity="0.4"/>
<ellipse cx="295.0" cy="212.5" rx="3.00" ry="35.4" fill="url(#ss)" opacity="0.22"/>
<ellipse cx="206.8" cy="191.5" rx="2.25" ry="59.7" fill="url(#ss)" opacity="0.14"/>
<ellipse cx="265.6" cy="191.5" rx="2.25" ry="59.7" fill="url(#ss)" opacity="0.14"/>
<ellipse cx="113.7" cy="209.0" rx="3.00" ry="39.4" fill="url(#ss)" opacity="0.2"/>
<ellipse cx="113.7" cy="231.0" rx="3.00" ry="17.4" fill="url(#ss)" opacity="0.5"/>
<ellipse cx="97.0" cy="181.5" rx="3.00" ry="71.3" fill="url(#ss)" opacity="0.16"/>
<ellipse cx="150.5" cy="186.5" rx="3.00" ry="65.5" fill="url(#ss)" opacity="0.15"/>
<ellipse cx="321.5" cy="186.5" rx="3.00" ry="65.5" fill="url(#ss)" opacity="0.15"/>
<ellipse cx="352.5" cy="181.5" rx="3.00" ry="71.3" fill="url(#ss)" opacity="0.18"/>
<ellipse cx="380.0" cy="196.5" rx="3.00" ry="53.9" fill="url(#ss)" opacity="0.2"/>
<ellipse cx="193.0" cy="79.0" rx="2.25" ry="24.4" fill="url(#ss)" opacity="0.15"/>
<ellipse cx="278.2" cy="90.0" rx="2.25" ry="11.6" fill="url(#ss)" opacity="0.3"/>
<ellipse cx="127.0" cy="201.5" rx="3.00" ry="48.1" fill="url(#ss)" opacity="0.12"/>
<ellipse cx="346.0" cy="201.5" rx="3.00" ry="48.1" fill="url(#ss)" opacity="0.12"/>
<ellipse cx="398.0" cy="216.5" rx="3.00" ry="30.7" fill="url(#ss)" opacity="0.12"/>
<ellipse cx="380.0" cy="224.5" rx="3.38" ry="16.2" fill="url(#ss)" opacity="0.3"/>
<ellipse cx="92.3" cy="225.1" rx="3.38" ry="16.2" fill="url(#ss)" opacity="0.3"/>
<ellipse cx="206.8" cy="224.5" rx="3.38" ry="16.2" fill="url(#ss)" opacity="0.3"/>
<ellipse cx="265.6" cy="224.5" rx="3.38" ry="16.2" fill="url(#ss)" opacity="0.3"/>
<ellipse cx="206.8" cy="190.2" rx="3.38" ry="16.2" fill="url(#ss)" opacity="0.3"/>
<ellipse cx="265.6" cy="189.8" rx="3.38" ry="16.2" fill="url(#ss)" opacity="0.3"/>
<ellipse cx="236.4" cy="207.4" rx="6" ry="5" fill="url(#sy)" opacity="1"/>
<ellipse cx="206.8" cy="190.2" rx="2.6" ry="4.5" fill="url(#sy)" opacity="1"/>
<ellipse cx="265.6" cy="189.8" rx="2.6" ry="4.5" fill="url(#sy)" opacity="1"/>
<ellipse cx="206.8" cy="224.5" rx="2.6" ry="5" fill="url(#sy)" opacity="1"/>
<ellipse cx="265.6" cy="224.5" rx="2.6" ry="5" fill="url(#sy)" opacity="1"/>
<ellipse cx="92.3" cy="225.1" rx="4.5" ry="5.5" fill="url(#sy)" opacity="1"/>
<ellipse cx="380.0" cy="224.5" rx="4.5" ry="6" fill="url(#sy)" opacity="1"/>
<ellipse cx="117.4" cy="109.4" rx="3.2" ry="4" fill="url(#sg)" opacity="1"/>
<ellipse cx="111.6" cy="116.7" rx="2" ry="2.4" fill="url(#sg)" opacity="0.8"/>
<ellipse cx="107.4" cy="130.0" rx="1.8" ry="2.2" fill="url(#sg)" opacity="0.8"/>
<ellipse cx="384.5" cy="152.3" rx="2.4" ry="3" fill="url(#sy)" opacity="0.9"/>
<ellipse cx="313.4" cy="76.4" rx="2" ry="2.2" fill="url(#sy)" opacity="0.9"/>
<ellipse cx="263.6" cy="63.0" rx="1.6" ry="2.4" fill="url(#sg)" opacity="0.9"/>
<ellipse cx="148.8" cy="224.5" rx="2.5" ry="4.5" fill="url(#sg)" opacity="1"/>
<ellipse cx="323.6" cy="224.5" rx="2.5" ry="4.5" fill="url(#sg)" opacity="1"/>
<ellipse cx="150.3" cy="154.6" rx="4" ry="4.5" fill="url(#sg)" opacity="0.75"/>
<ellipse cx="321.0" cy="153.5" rx="4" ry="4.5" fill="url(#sg)" opacity="0.8"/>
<ellipse cx="150.9" cy="190.0" rx="4" ry="5" fill="url(#sf)" opacity="0.9"/>
<ellipse cx="320.7" cy="189.0" rx="4" ry="5" fill="url(#sf)" opacity="0.9"/>
<ellipse cx="177.0" cy="207.3" rx="3.2" ry="6" fill="url(#sg)" opacity="0.6"/>
<ellipse cx="295.6" cy="206.0" rx="3.2" ry="6" fill="url(#sg)" opacity="0.6"/>
<ellipse cx="127.3" cy="207.3" rx="3.5" ry="5" fill="url(#sf)" opacity="0.7"/>
<ellipse cx="345.8" cy="205.6" rx="3.5" ry="5" fill="url(#sf)" opacity="0.8"/>
<ellipse cx="125.2" cy="172.8" rx="3.5" ry="4.5" fill="url(#sf)" opacity="0.6"/>
<ellipse cx="137.7" cy="171.7" rx="3.5" ry="4.5" fill="url(#sf)" opacity="0.5"/>
<ellipse cx="333.7" cy="171.0" rx="3.5" ry="5" fill="url(#sf)" opacity="0.8"/>
<ellipse cx="347.0" cy="171.0" rx="3.5" ry="4.5" fill="url(#sf)" opacity="0.6"/>
<ellipse cx="100.0" cy="190.2" rx="3.5" ry="5" fill="url(#sf)" opacity="0.6"/>
<ellipse cx="373.0" cy="188.5" rx="3.5" ry="5" fill="url(#sf)" opacity="0.7"/>
<ellipse cx="105.3" cy="207.3" rx="3.5" ry="5" fill="url(#sf)" opacity="0.6"/>
<ellipse cx="366.0" cy="206.0" rx="3" ry="5" fill="url(#sf)" opacity="0.6"/>
<ellipse cx="396.3" cy="207.0" rx="2.6" ry="4" fill="url(#sf)" opacity="1"/>
<ellipse cx="399.8" cy="207.0" rx="2.6" ry="4" fill="url(#sf)" opacity="1"/>
<ellipse cx="398.0" cy="207.0" rx="4" ry="3" fill="url(#sf)" opacity="0.8"/>
<ellipse cx="206.8" cy="154.0" rx="2.5" ry="4" fill="url(#sf)" opacity="0.7"/>
<ellipse cx="265.6" cy="154.0" rx="2.5" ry="4" fill="url(#sf)" opacity="0.7"/>
<ellipse cx="151.3" cy="86.8" rx="1.5" ry="1.5" fill="url(#sg)" opacity="0.8"/>
<ellipse cx="149.2" cy="83.3" rx="4" ry="4" fill="url(#sf)" opacity="0.5"/>
<ellipse cx="155.0" cy="102.0" rx="4" ry="4" fill="url(#sf)" opacity="0.5"/>
<ellipse cx="150.3" cy="119.9" rx="4" ry="5" fill="url(#sf)" opacity="0.6"/>
<ellipse cx="206.8" cy="85.8" rx="3" ry="3" fill="url(#sf)" opacity="0.8"/>
<ellipse cx="322.0" cy="118.8" rx="4" ry="5" fill="url(#sf)" opacity="0.6"/>
<ellipse cx="333.7" cy="91.6" rx="1.5" ry="1.5" fill="url(#sg)" opacity="0.4"/>
<ellipse cx="340.0" cy="94.8" rx="1.5" ry="1.5" fill="url(#sg)" opacity="0.4"/>
<ellipse cx="353.0" cy="112.5" rx="2" ry="2" fill="url(#sf)" opacity="0.7"/>
<ellipse cx="177.0" cy="120.0" rx="3" ry="5" fill="url(#sf)" opacity="0.6"/>
<ellipse cx="294.0" cy="105.0" rx="3" ry="6" fill="url(#sf)" opacity="0.7"/>
<ellipse cx="236.3" cy="238.0" rx="14" ry="4" fill="url(#sf)" opacity="0.5"/>
<circle cx="300.8" cy="113.6" r="1.6" fill="#440154"/>
<circle cx="369.7" cy="237.2" r="1.7" fill="#440154"/>
<rect x="76.5" y="240.60000000000002" width="352.0" height="2" fill="#26ad81" opacity="0.35" filter="url(#b1)"/>
<ellipse cx="236.3" cy="243.8" rx="34" ry="36" fill="#4ec36b" opacity="0.22" filter="url(#b5)"/>
<ellipse cx="208.8" cy="239.6" rx="2.2" ry="3.4" fill="url(#sy)" opacity="1"/>
<ellipse cx="246.9" cy="239.6" rx="2.2" ry="3.4" fill="url(#sy)" opacity="1"/>
<ellipse cx="262.5" cy="227.6" rx="1.4" ry="2.6" fill="url(#sg)" opacity="0.7"/>
<rect x="234.7" y="140" width="3.4" height="67" fill="url(#vsc)"/>
<rect x="234.9" y="207" width="3" height="20" fill="#fde725"/>
<path d="M236.4,203.6 L240.3,207.5 L236.4,211.2 L232.5,207.5 Z" fill="#fde725" filter="url(#b1)"/>
</g>
<g clip-path="url(#loc)">
<rect x="76.5" y="243.3" width="352.0" height="174.7" fill="url(#glo)"/>
<rect x="76.5" y="243.3" width="352.0" height="174.7" filter="url(#nz)"/>
<rect x="76.5" y="243.3" width="140.5" height="8" fill="url(#hb)"/>
<rect x="248" y="243.3" width="180.5" height="8" fill="url(#hb)"/>
<path d="M70,251.5 L216,251.5 L84,281 L70,284 Z" fill="#440154" opacity="0.93" filter="url(#b1)"/>
<path d="M70,284 L84,281 L160,264 L150,282 L80,312 Z" fill="#440154" opacity="0.45" filter="url(#b5)"/>
<path d="M216,251.5 L150,266.3 L138,282 L157.6,277 Q190,268 210,255.5 Z" fill="#440154" opacity="0.8" filter="url(#b2)"/>
<path d="M70,284 L157,277 L204,260 L178,305 L100,335 L70,320 Z" fill="#440154" opacity="0.4" filter="url(#b8)"/>
<path d="M262,252 L440,252 L440,335 L350,292 Z" fill="#440154" opacity="0.55" filter="url(#b8)"/>
<path d="M252,252 L440,252 L440,305 L330,276 L272,258 Z" fill="#440154" opacity="0.95" filter="url(#b5)"/>
<path d="M282,252 L440,252 L440,280 L340,264 Z" fill="#440154" opacity="0.9" filter="url(#b2)"/>
<path d="M218,251 L84.4,280.5" stroke="#31678e" stroke-width="1" opacity="0.8" fill="none"/>
<path d="M210,256 Q190,268 157.6,277" stroke="#2e6f8e" stroke-width="1.1" opacity="0.75" fill="none"/>
<rect x="377.3" y="252" width="1.6" height="11.5" fill="#25848e" opacity="0.9"/>
<rect x="394.7" y="273.5" width="1.5" height="7" fill="#2a788e" opacity="0.9"/>
<ellipse cx="236.4" cy="276.6" rx="3.2" ry="1.9" fill="url(#sy)" opacity="1"/>
<rect x="235.8" y="253" width="1.2" height="13" fill="#21918c" opacity="0.7"/>
</g>
</g>
<path d="M73.7,223.0 L74.1,212.6 L75.2,202.3 L76.7,192.1 L78.8,182.1 L81.3,172.1 L84.3,162.4 L87.8,152.9 L91.7,143.6 L95.9,134.5 L100.5,125.7 L105.5,117.1 L110.8,108.8 L116.4,100.8 L122.4,93.0 L128.6,85.5 L135.1,78.3 L142.0,71.4 L149.1,64.9 L156.5,58.8 L164.3,53.1 L172.3,47.9 L180.6,43.1 L189.1,38.9 L197.8,35.3 L206.8,32.3 L215.9,29.9 L225.1,28.2 L234.4,27.2 L243.7,26.7 L253.0,27.0 L262.3,27.8 L271.4,29.3 L280.5,31.3 L289.4,33.8 L298.1,36.8 L306.7,40.3 L315.1,44.2 L323.3,48.4 L331.3,53.0 L339.2,58.0 L346.8,63.3 L354.3,68.9 L361.5,74.9 L368.5,81.1 L375.3,87.8 L381.9,94.7 L388.1,102.1 L394.0,109.7 L399.6,117.8 L404.8,126.1 L409.6,134.8 L413.9,143.8 L417.7,153.1 L421.1,162.6 L423.9,172.4 L426.3,182.3 L428.0,192.4 L429.3,202.5 L430.0,212.7 L430.3,223.0 L430.0,233.3 L429.2,243.5 L427.9,253.6 L426.2,263.7 L424.0,273.6 L421.3,283.5 L418.2,293.1 L414.6,302.6 L410.7,311.8 L406.3,320.8 L401.4,329.6 L396.2,338.0 L390.5,346.1 L384.5,353.9 L378.1,361.3 L371.3,368.3 L364.2,374.8 L356.8,380.9 L349.1,386.6 L341.1,391.8 L333.0,396.5 L324.6,400.7 L316.0,404.5 L307.3,407.7 L298.5,410.5 L289.5,412.8 L280.5,414.7 L271.4,416.0 L262.2,416.9 L253.0,417.3 L243.8,417.3 L234.6,416.7 L225.4,415.6 L216.3,414.0 L207.2,411.9 L198.3,409.2 L189.4,406.1 L180.7,402.4 L172.3,398.2 L164.0,393.5 L155.9,388.3 L148.1,382.6 L140.6,376.4 L133.4,369.8 L126.6,362.8 L120.0,355.3 L113.9,347.5 L108.1,339.4 L102.7,330.9 L97.7,322.1 L93.1,313.1 L89.0,303.7 L85.3,294.2 L82.1,284.4 L79.4,274.4 L77.2,264.3 L75.5,254.1 L74.3,243.8 L73.7,233.4Z" fill="none" stroke="#472a7a" stroke-width="0.9" opacity="0.6" clip-path="url(#tlp)"/>
<g clip-path="url(#wlo)">
<rect x="234.0" y="282.0" width="4.5" height="2" fill="#3f4788"/>
<rect x="234.0" y="284.0" width="4.6" height="1" fill="#3e4c8a"/>
<rect x="233.8" y="285.0" width="4.9" height="2" fill="#423f85"/>
<rect x="233.8" y="287.0" width="5.0" height="1" fill="#3e4989"/>
<rect x="233.6" y="288.0" width="5.5" height="3" fill="#3f4889"/>
<rect x="233.3" y="291.0" width="5.9" height="3" fill="#3f4889"/>
<rect x="233.3" y="294.0" width="6.1" height="1" fill="#3e4989"/>
<rect x="233.2" y="295.0" width="6.2" height="1" fill="#3e4989"/>
<rect x="233.1" y="296.0" width="6.4" height="1" fill="#3c508b"/>
<rect x="233.0" y="297.0" width="6.6" height="1" fill="#404588"/>
<rect x="232.9" y="298.0" width="6.8" height="1" fill="#3f4889"/>
<rect x="232.7" y="299.0" width="7.3" height="3" fill="#3e4c8a"/>
<rect x="232.5" y="302.0" width="7.7" height="2" fill="#3c508b"/>
<rect x="232.4" y="304.0" width="7.8" height="1" fill="#433d84"/>
<rect x="232.3" y="305.0" width="8.0" height="1" fill="#3f4788"/>
<rect x="232.1" y="306.0" width="8.4" height="2" fill="#424186"/>
<rect x="231.9" y="308.0" width="8.8" height="2" fill="#3e4989"/>
<rect x="231.7" y="310.0" width="9.3" height="2" fill="#482173"/>
<rect x="231.5" y="312.0" width="9.7" height="2" fill="#414487"/>
<rect x="231.2" y="314.0" width="10.1" height="2" fill="#481769"/>
<rect x="230.9" y="316.0" width="10.8" height="3" fill="#463480"/>
<rect x="230.7" y="319.0" width="11.3" height="2" fill="#463480"/>
<rect x="230.4" y="321.0" width="11.8" height="2" fill="#481769"/>
<rect x="230.3" y="323.0" width="12.0" height="1" fill="#414487"/>
<rect x="230.2" y="324.0" width="12.3" height="1" fill="#463480"/>
<rect x="229.9" y="325.0" width="12.8" height="2" fill="#414487"/>
<rect x="229.8" y="327.0" width="13.1" height="1" fill="#3e4989"/>
<rect x="229.4" y="328.0" width="13.9" height="3" fill="#3e4989"/>
<rect x="229.1" y="331.0" width="14.4" height="2" fill="#481769"/>
<rect x="228.7" y="333.0" width="15.3" height="3" fill="#481769"/>
<rect x="228.5" y="336.0" width="15.5" height="1" fill="#3e4989"/>
<rect x="228.4" y="337.0" width="15.8" height="1" fill="#414487"/>
<rect x="227.9" y="338.0" width="16.7" height="3" fill="#3e4989"/>
<rect x="227.6" y="341.0" width="17.3" height="2" fill="#463480"/>
<rect x="227.3" y="343.0" width="18.0" height="2" fill="#433e85"/>
<rect x="227.2" y="345.0" width="18.3" height="1" fill="#433e85"/>
<rect x="227.0" y="346.0" width="18.6" height="1" fill="#463480"/>
<rect x="226.7" y="347.0" width="19.3" height="2" fill="#414487"/>
<rect x="226.2" y="349.0" width="20.3" height="3" fill="#3e4989"/>
<rect x="225.8" y="352.0" width="20.9" height="2" fill="#482173"/>
<rect x="225.5" y="354.0" width="21.6" height="2" fill="#482173"/>
<rect x="225.0" y="356.0" width="22.7" height="3" fill="#463480"/>
<rect x="224.8" y="359.0" width="23.1" height="1" fill="#472a7a"/>
<rect x="224.6" y="360.0" width="23.4" height="1" fill="#414487"/>
<rect x="224.4" y="361.0" width="23.8" height="1" fill="#463480"/>
<rect x="223.8" y="362.0" width="24.9" height="3" fill="#433e85"/>
<rect x="223.7" y="365.0" width="25.3" height="1" fill="#472a7a"/>
<rect x="223.5" y="366.0" width="25.7" height="1" fill="#3e4989"/>
<rect x="223.1" y="367.0" width="26.4" height="2" fill="#481769"/>
<rect x="222.9" y="369.0" width="26.8" height="1" fill="#482173"/>
<rect x="222.3" y="370.0" width="28.0" height="3" fill="#463480"/>
<rect x="222.1" y="373.0" width="28.4" height="1" fill="#463480"/>
<rect x="221.7" y="374.0" width="29.3" height="2" fill="#433e85"/>
<rect x="221.5" y="376.0" width="29.7" height="1" fill="#463480"/>
<rect x="221.0" y="377.0" width="30.5" height="2" fill="#482173"/>
<rect x="220.8" y="379.0" width="30.9" height="1" fill="#463480"/>
<rect x="220.4" y="380.0" width="31.8" height="2" fill="#472a7a"/>
<rect x="220.2" y="382.0" width="32.2" height="1" fill="#433e85"/>
<rect x="219.5" y="383.0" width="33.5" height="3" fill="#463480"/>
<rect x="219.1" y="386.0" width="34.4" height="2" fill="#481769"/>
<rect x="218.9" y="388.0" width="34.9" height="1" fill="#482173"/>
<rect x="218.6" y="389.0" width="35.3" height="1" fill="#472a7a"/>
<rect x="218.4" y="390.0" width="35.8" height="1" fill="#472a7a"/>
<rect x="217.7" y="391.0" width="37.2" height="3" fill="#414487"/>
<rect x="217.2" y="394.0" width="38.1" height="2" fill="#463480"/>
<rect x="217.0" y="396.0" width="38.6" height="1" fill="#463480"/>
<rect x="216.3" y="397.0" width="40.1" height="3" fill="#482173"/>
<rect x="215.5" y="400.0" width="41.5" height="3" fill="#481769"/>
<rect x="215.0" y="403.0" width="42.5" height="2" fill="#433e85"/>
<rect x="214.3" y="405.0" width="44.1" height="3" fill="#463480"/>
<rect x="213.5" y="408.0" width="45.6" height="3" fill="#481769"/>
<rect x="213.0" y="411.0" width="46.7" height="2" fill="#463480"/>
<rect x="212.4" y="413.0" width="47.7" height="2" fill="#463480"/>
<rect x="212.2" y="415.0" width="48.2" height="1" fill="#414487"/>
<rect x="211.9" y="416.0" width="48.8" height="1" fill="#433e85"/>
<rect x="211.6" y="417.0" width="49.3" height="1" fill="#463480"/>
</g>
<g clip-path="url(#wup)" opacity="0.5">
<rect x="200.5" y="32.5" width="71.6" height="3" fill="#38588c"/>
<rect x="201.5" y="35.5" width="69.7" height="2" fill="#355f8d"/>
<rect x="202.1" y="37.5" width="68.4" height="1" fill="#287d8e"/>
<rect x="202.4" y="38.5" width="67.7" height="2" fill="#31678e"/>
<rect x="204.0" y="43.5" width="64.6" height="2" fill="#355f8d"/>
<rect x="204.6" y="45.5" width="63.3" height="2" fill="#355f8d"/>
<rect x="205.2" y="47.5" width="62.1" height="1" fill="#25848e"/>
<rect x="205.6" y="48.5" width="61.5" height="2" fill="#25848e"/>
<rect x="206.2" y="50.5" width="60.3" height="2" fill="#31678e"/>
<rect x="206.8" y="52.5" width="59.1" height="3" fill="#38588c"/>
<rect x="208.2" y="57.5" width="56.1" height="2" fill="#228b8d"/>
<rect x="208.8" y="59.5" width="55.0" height="1" fill="#228b8d"/>
<rect x="209.1" y="60.5" width="54.4" height="1" fill="#228b8d"/>
<rect x="209.7" y="62.5" width="53.3" height="2" fill="#25848e"/>
<rect x="210.2" y="64.5" width="52.1" height="1" fill="#228b8d"/>
<rect x="210.5" y="65.5" width="51.6" height="2" fill="#355f8d"/>
<rect x="211.6" y="69.5" width="49.4" height="2" fill="#25848e"/>
<rect x="212.1" y="71.5" width="48.3" height="1" fill="#25848e"/>
<rect x="212.4" y="72.5" width="47.8" height="1" fill="#228b8d"/>
<rect x="212.7" y="73.5" width="47.2" height="3" fill="#25848e"/>
<rect x="213.5" y="76.5" width="45.7" height="2" fill="#25848e"/>
<rect x="214.0" y="78.5" width="44.6" height="1" fill="#287d8e"/>
<rect x="214.8" y="81.5" width="43.1" height="2" fill="#38588c"/>
<rect x="215.3" y="83.5" width="42.1" height="1" fill="#31678e"/>
<rect x="215.5" y="84.5" width="41.6" height="1" fill="#38588c"/>
<rect x="215.8" y="85.5" width="41.1" height="1" fill="#355f8d"/>
<rect x="216.0" y="86.5" width="40.6" height="2" fill="#38588c"/>
<rect x="216.5" y="88.5" width="39.6" height="1" fill="#355f8d"/>
<rect x="216.7" y="89.5" width="39.1" height="2" fill="#228b8d"/>
<rect x="218.4" y="96.5" width="35.8" height="2" fill="#38588c"/>
<rect x="219.5" y="101.5" width="33.6" height="3" fill="#228b8d"/>
<rect x="220.2" y="104.5" width="32.3" height="3" fill="#31678e"/>
<rect x="221.0" y="108.5" width="30.6" height="2" fill="#31678e"/>
<rect x="222.5" y="115.5" width="27.7" height="1" fill="#25848e"/>
<rect x="222.7" y="116.5" width="27.3" height="1" fill="#38588c"/>
<rect x="222.9" y="117.5" width="26.9" height="1" fill="#38588c"/>
<rect x="223.1" y="118.5" width="26.5" height="1" fill="#38588c"/>
<rect x="224.0" y="123.5" width="24.6" height="1" fill="#31678e"/>
<rect x="224.2" y="124.5" width="24.2" height="2" fill="#228b8d"/>
<rect x="224.6" y="126.5" width="23.5" height="2" fill="#355f8d"/>
<rect x="226.2" y="135.5" width="20.3" height="2" fill="#228b8d"/>
<rect x="226.5" y="137.5" width="19.6" height="3" fill="#25848e"/>
<rect x="227.3" y="142.5" width="18.0" height="1" fill="#38588c"/>
<rect x="227.5" y="143.5" width="17.7" height="3" fill="#287d8e"/>
<rect x="227.9" y="146.5" width="16.8" height="3" fill="#355f8d"/>
<rect x="228.4" y="149.5" width="15.9" height="2" fill="#25848e"/>
<rect x="228.7" y="151.5" width="15.3" height="2" fill="#287d8e"/>
<rect x="229.1" y="154.5" width="14.4" height="3" fill="#31678e"/>
<rect x="229.5" y="157.5" width="13.6" height="1" fill="#25848e"/>
<rect x="230.0" y="161.5" width="12.6" height="1" fill="#228b8d"/>
<rect x="230.5" y="165.5" width="11.6" height="2" fill="#31678e"/>
<rect x="230.8" y="167.5" width="11.1" height="2" fill="#25848e"/>
<rect x="231.0" y="169.5" width="10.6" height="2" fill="#25848e"/>
</g>
<ellipse cx="231" cy="248" rx="19" ry="9" fill="#440154" opacity="0.9" filter="url(#b2)" clip-path="url(#loc)"/>
<ellipse cx="231.5" cy="238.7" rx="12.5" ry="14.4" fill="#46307e"/>
<ellipse cx="231.5" cy="238.7" rx="12.5" ry="14.4" filter="url(#nzb)" opacity="0.5"/>
<ellipse cx="231.5" cy="238.7" rx="12" ry="13.9" fill="none" stroke="#38588c" stroke-width="1.4" opacity="0.6" filter="url(#b1)"/>
</g>
<rect x="76.5" y="32.5" width="352.0" height="385.0" fill="none" stroke="#000" stroke-width="1.11"/>
<path d="M153.5,418.0 v4.9" stroke="#000" stroke-width="1.11"/>
<text x="153.20" y="437.6" text-anchor="middle" class="t">−10</text>
<path d="M236.5,418.0 v4.9" stroke="#000" stroke-width="1.11"/>
<text x="237.30" y="437.6" text-anchor="middle" class="t">0</text>
<path d="M319.5,418.0 v4.9" stroke="#000" stroke-width="1.11"/>
<text x="319.70" y="437.6" text-anchor="middle" class="t">10</text>
<path d="M403.5,418.0 v4.9" stroke="#000" stroke-width="1.11"/>
<text x="403.10" y="437.6" text-anchor="middle" class="t">20</text>
<path d="M76.0,59.5 h-4.9" stroke="#000" stroke-width="1.11"/>
<text x="66.7" y="64.90" text-anchor="end" class="t">20</text>
<path d="M76.0,105.5 h-4.9" stroke="#000" stroke-width="1.11"/>
<text x="66.2" y="110.90" text-anchor="end" class="t">15</text>
<path d="M76.0,151.5 h-4.9" stroke="#000" stroke-width="1.11"/>
<text x="66.3" y="156.90" text-anchor="end" class="t">10</text>
<path d="M76.0,198.5 h-4.9" stroke="#000" stroke-width="1.11"/>
<text x="66.2" y="203.90" text-anchor="end" class="t">5</text>
<path d="M76.0,244.5 h-4.9" stroke="#000" stroke-width="1.11"/>
<text x="67.6" y="249.00" text-anchor="end" class="t">0</text>
<path d="M76.0,290.5 h-4.9" stroke="#000" stroke-width="1.11"/>
<text x="66.2" y="295.00" text-anchor="end" class="t">−5</text>
<path d="M76.0,336.5 h-4.9" stroke="#000" stroke-width="1.11"/>
<text x="66.3" y="341.90" text-anchor="end" class="t">−10</text>
<path d="M76.0,382.5 h-4.9" stroke="#000" stroke-width="1.11"/>
<text x="66.2" y="387.90" text-anchor="end" class="t">−15</text>
<text x="252.26" y="22.7" text-anchor="middle" class="ti" letter-spacing="-0.05">Pixel-splitting=bbox</text>
<text x="154.6" y="461.0" class="t">Scattering vector <tspan class="i">q</tspan><tspan class="i s" dy="3">IP</tspan><tspan dy="-3"> (</tspan><tspan class="i">nm</tspan><tspan class="s" dy="-6.3" dx="0.8">−1</tspan><tspan dy="6.3">)</tspan></text>
<text transform="translate(23.8 329.3) rotate(-90)" class="t">Scattering vector <tspan class="i">q</tspan><tspan class="i s" dy="3">OOP</tspan><tspan dy="-3"> (</tspan><tspan class="i">nm</tspan><tspan class="s" dy="-6.3" dx="0.8">−1</tspan><tspan dy="6.3">)</tspan></text>
</g></svg>
</body></html>
